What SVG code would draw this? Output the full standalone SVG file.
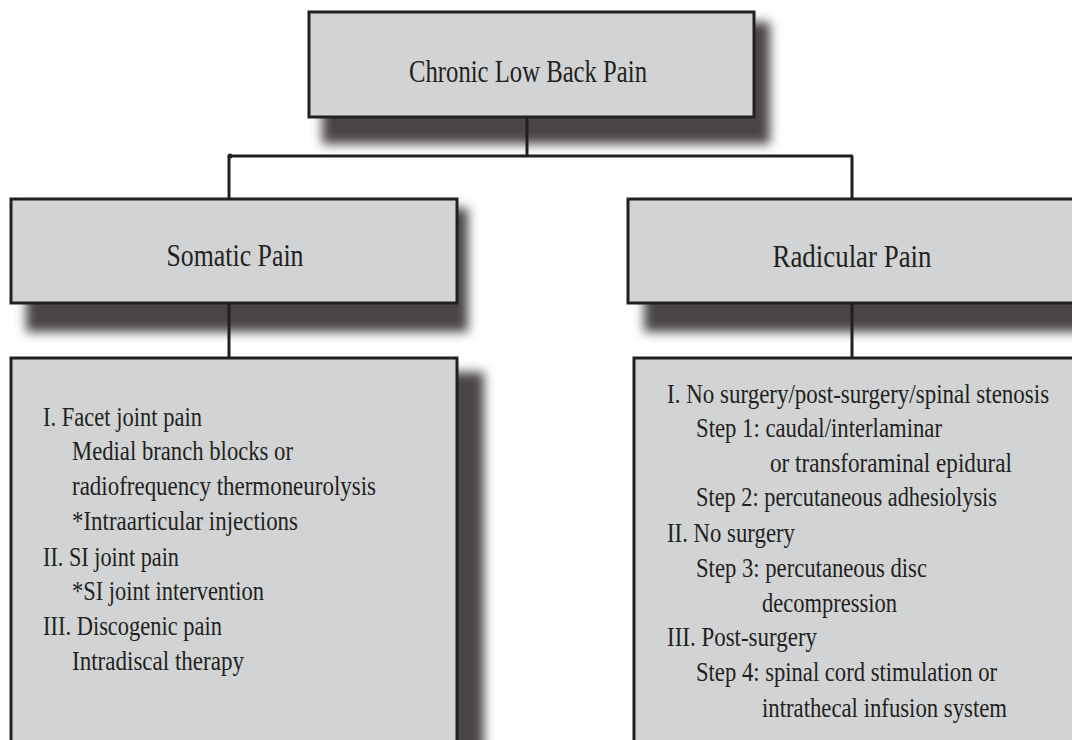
<svg xmlns="http://www.w3.org/2000/svg" width="1072" height="740" viewBox="0 0 1072 740">
<defs>
<filter id="sh" x="-20%" y="-30%" width="140%" height="160%"><feGaussianBlur stdDeviation="5.5"/></filter>
<style>
.box{fill:#d1d3d4;stroke:#231f20;stroke-width:3}
.shadow{fill:#4a4444;filter:url(#sh)}
.conn{stroke:#231f20;stroke-width:3;fill:none}
.t{font-family:"Liberation Serif","DejaVu Serif",serif;fill:#231f20}
.h{font-size:32px}
.b{font-size:28px}
</style>
</defs>
<rect width="1072" height="740" fill="#ffffff"/>
<g id="shadows">
<rect class="shadow" x="322" y="22" width="448" height="122"/>
<rect class="shadow" x="26" y="208" width="442" height="124"/>
<rect class="shadow" x="644" y="208" width="460" height="124"/>
<rect class="shadow" x="26" y="372" width="458" height="400"/>
</g>
<g id="connectors">
<path class="conn" d="M527 117 V156 M230 156 H853 M229 156 V199 M852 156 V199 M229 303 V358 M852 303 V358"/>
<circle cx="230" cy="156" r="2.5" fill="#231f20"/>
</g>
<g id="node-root">
<rect class="box" x="309" y="12" width="445" height="105"/>
<text class="t h" x="528" y="82" text-anchor="middle" textLength="238" lengthAdjust="spacingAndGlyphs">Chronic Low Back Pain</text>
</g>
<g id="node-somatic">
<rect class="box" x="11" y="199" width="446" height="104"/>
<text class="t h" x="235" y="266" text-anchor="middle" textLength="137" lengthAdjust="spacingAndGlyphs">Somatic Pain</text>
</g>
<g id="node-radicular">
<rect class="box" x="628" y="199" width="447" height="104"/>
<text class="t h" x="852" y="267" text-anchor="middle" textLength="159" lengthAdjust="spacingAndGlyphs">Radicular Pain</text>
</g>
<g id="node-somatic-list">
<rect class="box" x="11" y="358" width="446" height="400"/>
<text class="t b" x="43" y="426" textLength="159" lengthAdjust="spacingAndGlyphs">I. Facet joint pain</text>
<text class="t b" x="72" y="460" textLength="221" lengthAdjust="spacingAndGlyphs">Medial branch blocks or</text>
<text class="t b" x="72" y="495" textLength="304" lengthAdjust="spacingAndGlyphs">radiofrequency thermoneurolysis</text>
<text class="t b" x="72" y="530" textLength="226" lengthAdjust="spacingAndGlyphs">*Intraarticular injections</text>
<text class="t b" x="43" y="566" textLength="136" lengthAdjust="spacingAndGlyphs">II. SI joint pain</text>
<text class="t b" x="72" y="600" textLength="192" lengthAdjust="spacingAndGlyphs">*SI joint intervention</text>
<text class="t b" x="43" y="635" textLength="179" lengthAdjust="spacingAndGlyphs">III. Discogenic pain</text>
<text class="t b" x="72" y="670" textLength="172" lengthAdjust="spacingAndGlyphs">Intradiscal therapy</text>
</g>
<g id="node-radicular-list">
<rect class="box" x="634" y="358" width="441" height="400"/>
<text class="t b" transform="translate(667 403) scale(0.82 1)" x="0" y="0" textLength="466" lengthAdjust="spacingAndGlyphs">I. No surgery/post-surgery/spinal stenosis</text>
<text class="t b" x="696" y="437" textLength="246" lengthAdjust="spacingAndGlyphs">Step 1: caudal/interlaminar</text>
<text class="t b" x="770" y="472" textLength="242" lengthAdjust="spacingAndGlyphs">or transforaminal epidural</text>
<text class="t b" x="696" y="506" textLength="301" lengthAdjust="spacingAndGlyphs">Step 2: percutaneous adhesiolysis</text>
<text class="t b" x="667" y="542" textLength="128" lengthAdjust="spacingAndGlyphs">II. No surgery</text>
<text class="t b" x="696" y="577" textLength="231" lengthAdjust="spacingAndGlyphs">Step 3: percutaneous disc</text>
<text class="t b" x="762" y="612" textLength="135" lengthAdjust="spacingAndGlyphs">decompression</text>
<text class="t b" x="667" y="646" textLength="150" lengthAdjust="spacingAndGlyphs">III. Post-surgery</text>
<text class="t b" x="696" y="681" textLength="301" lengthAdjust="spacingAndGlyphs">Step 4: spinal cord stimulation or</text>
<text class="t b" x="762" y="717" textLength="245" lengthAdjust="spacingAndGlyphs">intrathecal infusion system</text>
</g>
</svg>
